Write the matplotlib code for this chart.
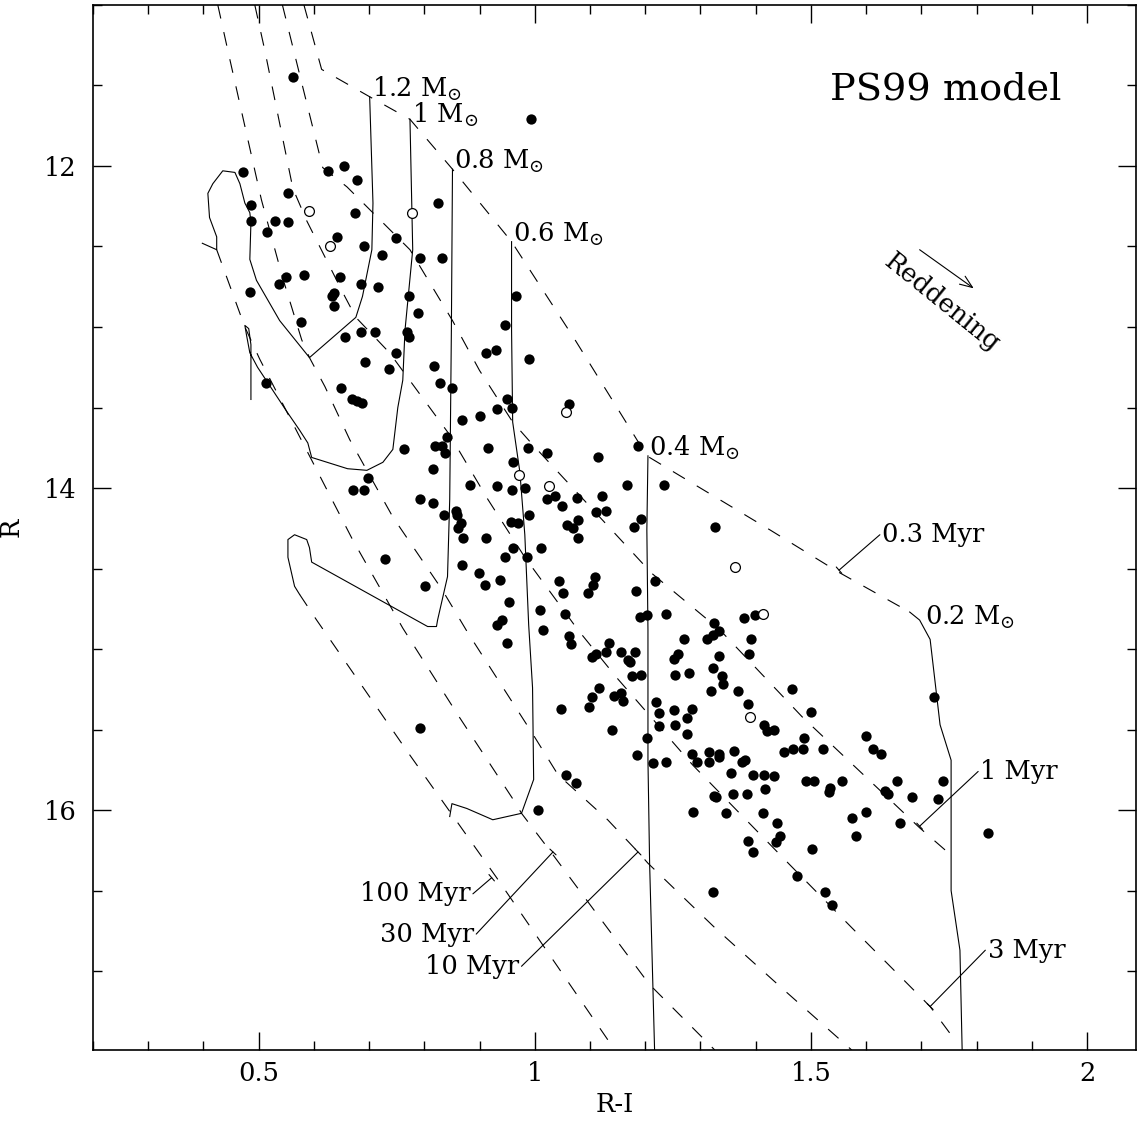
import matplotlib
matplotlib.use("Agg")
import matplotlib.pyplot as plt
import numpy as np
from matplotlib.ticker import MultipleLocator

plt.rcParams['font.family'] = ['DejaVu Serif']
plt.rcParams['mathtext.fontset'] = 'dejavuserif'
plt.rcParams['lines.scale_dashes'] = False

# observed stars (R-I, R)
filled = np.array([
    (0.563, 11.45), (0.471, 12.04), (0.625, 12.03), (0.654, 12.00), (0.678, 12.09),
    (0.553, 12.17), (0.824, 12.23), (0.486, 12.24), (0.487, 12.34), (0.529, 12.34),
    (0.554, 12.35), (0.516, 12.41), (0.674, 12.29), (0.641, 12.44), (0.690, 12.50),
    (0.723, 12.55), (0.748, 12.45), (0.792, 12.57), (0.832, 12.57), (0.536, 12.73),
    (0.549, 12.69), (0.582, 12.68), (0.484, 12.78), (0.647, 12.69), (0.685, 12.73),
    (0.716, 12.75), (0.636, 12.79), (0.632, 12.81), (0.636, 12.87), (0.772, 12.81),
    (0.788, 12.91), (0.576, 12.97), (0.656, 13.06), (0.685, 13.03), (0.710, 13.03),
    (0.768, 13.03), (0.772, 13.06), (0.748, 13.16), (0.692, 13.22), (0.736, 13.26),
    (0.817, 13.24), (0.911, 13.16), (0.513, 13.35), (0.649, 13.38), (0.669, 13.45),
    (0.678, 13.46), (0.687, 13.47), (0.828, 13.35), (0.851, 13.38), (0.868, 13.58),
    (0.900, 13.55), (0.841, 13.68), (0.819, 13.74), (0.832, 13.74), (0.837, 13.78),
    (0.763, 13.76), (0.915, 13.75), (0.815, 13.88), (0.698, 13.94), (0.670, 14.01),
    (0.690, 14.01), (0.882, 13.98), (0.792, 14.07), (0.815, 14.09), (0.835, 14.17),
    (0.857, 14.14), (0.859, 14.17), (0.866, 14.22), (0.861, 14.25), (0.870, 14.31),
    (0.911, 14.31), (0.728, 14.44), (0.868, 14.48), (0.899, 14.53), (0.909, 14.60),
    (0.801, 14.61), (0.993, 11.71), (0.966, 12.81), (0.946, 12.99), (0.929, 13.14),
    (0.989, 13.20), (0.949, 13.45), (0.958, 13.50), (0.931, 13.51), (1.062, 13.48),
    (0.987, 13.75), (1.022, 13.78), (1.114, 13.81), (1.187, 13.74), (0.960, 13.84),
    (0.931, 13.99), (0.958, 14.01), (0.982, 14.00), (1.036, 14.05), (1.022, 14.07),
    (1.049, 14.11), (1.076, 14.06), (1.121, 14.05), (1.167, 13.98), (1.234, 13.98),
    (1.111, 14.15), (1.129, 14.14), (0.989, 14.17), (0.957, 14.21), (0.969, 14.22),
    (1.058, 14.23), (1.069, 14.25), (1.078, 14.20), (1.078, 14.31), (1.192, 14.19),
    (1.179, 14.24), (1.326, 14.24), (0.960, 14.37), (0.947, 14.43), (1.011, 14.37),
    (0.986, 14.43), (0.937, 14.57), (1.044, 14.58), (1.051, 14.65), (1.109, 14.55),
    (1.105, 14.60), (1.096, 14.65), (1.183, 14.64), (1.217, 14.58), (0.953, 14.71),
    (1.009, 14.76), (1.054, 14.78), (1.190, 14.80), (1.203, 14.79), (1.237, 14.78),
    (1.324, 14.84), (1.379, 14.81), (1.399, 14.79), (0.931, 14.85), (0.940, 14.82),
    (1.015, 14.88), (0.949, 14.96), (1.062, 14.92), (1.065, 14.97), (1.134, 14.96),
    (1.103, 15.05), (1.111, 15.03), (1.129, 15.02), (1.156, 15.02), (1.181, 15.02),
    (1.169, 15.07), (1.172, 15.08), (1.176, 15.17), (1.192, 15.16), (1.270, 14.94),
    (1.252, 15.06), (1.259, 15.03), (1.254, 15.16), (1.279, 15.15), (1.116, 15.24),
    (1.103, 15.30), (1.098, 15.36), (1.143, 15.29), (1.156, 15.27), (1.159, 15.32),
    (1.047, 15.37), (1.140, 15.50), (1.219, 15.33), (1.225, 15.40), (1.225, 15.48),
    (1.203, 15.55), (1.252, 15.38), (1.284, 15.37), (1.275, 15.43), (1.254, 15.47),
    (1.275, 15.53), (1.284, 15.65), (1.294, 15.70), (1.185, 15.66), (1.214, 15.71),
    (1.237, 15.70), (0.792, 15.49), (1.056, 15.78), (1.074, 15.83), (1.006, 16.00),
    (1.286, 16.01), (1.333, 14.89), (1.322, 14.91), (1.312, 14.94), (1.391, 14.94),
    (1.388, 15.03), (1.333, 15.04), (1.322, 15.12), (1.339, 15.17), (1.341, 15.22),
    (1.319, 15.26), (1.368, 15.26), (1.386, 15.34), (1.466, 15.25), (1.500, 15.39),
    (1.415, 15.47), (1.420, 15.51), (1.433, 15.50), (1.487, 15.55), (1.485, 15.62),
    (1.467, 15.62), (1.451, 15.64), (1.522, 15.62), (1.600, 15.54), (1.613, 15.62),
    (1.627, 15.65), (1.723, 15.30), (1.315, 15.64), (1.315, 15.70), (1.333, 15.65),
    (1.333, 15.67), (1.361, 15.63), (1.375, 15.70), (1.380, 15.69), (1.355, 15.77),
    (1.395, 15.78), (1.415, 15.78), (1.433, 15.79), (1.417, 15.87), (1.491, 15.82),
    (1.505, 15.82), (1.556, 15.82), (1.534, 15.86), (1.533, 15.89), (1.634, 15.88),
    (1.640, 15.90), (1.656, 15.82), (1.683, 15.92), (1.739, 15.82), (1.730, 15.93),
    (1.324, 15.91), (1.328, 15.92), (1.359, 15.90), (1.384, 15.90), (1.346, 16.02),
    (1.413, 16.02), (1.438, 16.08), (1.445, 16.16), (1.436, 16.20), (1.386, 16.19),
    (1.395, 16.26), (1.502, 16.24), (1.574, 16.05), (1.600, 16.01), (1.582, 16.16),
    (1.661, 16.08), (1.821, 16.14), (1.475, 16.41), (1.525, 16.51), (1.538, 16.59),
    (1.322, 16.51),
])

hollow = np.array([
    (0.591, 12.28), (0.777, 12.29), (0.629, 12.50), (1.056, 13.53), (0.971, 13.92),
    (1.025, 13.99), (1.362, 14.49), (1.413, 14.78), (1.390, 15.42),
])

# PS99 isochrones
iso_03 = np.array([(0.582, 11.00), (0.614, 11.40), (0.701, 11.57), (0.774, 11.71),
                   (0.851, 12.02), (0.958, 12.47), (1.073, 13.08), (1.203, 13.80),
                   (1.426, 14.26), (1.549, 14.52), (1.679, 14.77)])
iso_1 = np.array([(0.543, 11.00), (0.616, 12.01), (0.660, 12.13), (0.774, 12.52),
                  (0.851, 12.96), (0.900, 13.27), (0.960, 13.59), (0.996, 13.73),
                  (1.069, 14.00), (1.212, 14.53), (1.335, 14.88), (1.484, 15.42),
                  (1.697, 16.11), (1.754, 16.28)])
iso_3 = np.array([(0.493, 11.00), (0.511, 11.28), (0.562, 12.14), (0.587, 12.34),
                  (0.656, 12.81), (0.676, 12.94), (0.737, 13.16), (0.846, 13.67),
                  (0.915, 14.07), (0.982, 14.43), (1.078, 14.88), (1.149, 15.18),
                  (1.286, 15.72), (1.462, 16.34), (1.574, 16.73), (1.716, 17.22),
                  (1.757, 17.41)])
iso_10 = np.array([(0.426, 11.00), (0.444, 11.28), (0.505, 12.21), (0.543, 12.69),
                   (0.578, 13.08), (0.592, 13.19), (0.620, 13.37), (0.665, 13.70),
                   (0.743, 14.18), (0.832, 14.63), (0.879, 14.90), (0.937, 15.21),
                   (0.995, 15.52), (1.042, 15.78), (1.132, 16.06), (1.187, 16.26),
                   (1.205, 16.33), (1.326, 16.73), (1.449, 17.11), (1.574, 17.49)])
iso_30 = np.array([(0.424, 12.52), (0.475, 13.00), (0.502, 13.20), (0.574, 13.68),
                   (0.670, 14.32), (0.761, 14.87), (0.861, 15.41), (0.964, 15.95),
                   (0.976, 16.02), (1.027, 16.25), (1.118, 16.67), (1.207, 17.08),
                   (1.326, 17.49)])
iso_100 = np.array([(0.574, 14.66), (0.605, 14.82), (0.770, 15.64), (0.931, 16.42),
                    (1.145, 17.49)])

# PS99 mass tracks
trk_12 = np.array([(0.701, 11.57), (0.707, 12.23), (0.705, 12.52), (0.688, 12.81),
                   (0.676, 12.94), (0.592, 13.19), (0.538, 12.96), (0.496, 12.71),
                   (0.484, 12.58), (0.486, 12.35), (0.484, 12.29), (0.475, 12.23),
                   (0.466, 12.11), (0.457, 12.04), (0.435, 12.03), (0.417, 12.11),
                   (0.408, 12.17), (0.411, 12.32), (0.424, 12.44), (0.424, 12.52),
                   (0.398, 12.48)])
trk_10 = np.array([(0.774, 11.71), (0.779, 12.52), (0.765, 13.02), (0.761, 13.33),
                   (0.752, 13.50), (0.743, 13.76), (0.725, 13.84), (0.696, 13.89),
                   (0.661, 13.88), (0.596, 13.81), (0.589, 13.72), (0.574, 13.64),
                   (0.550, 13.52), (0.525, 13.39), (0.498, 13.25), (0.484, 13.16),
                   (0.478, 13.05), (0.475, 12.99), (0.482, 13.01), (0.486, 13.11),
                   (0.486, 13.45)])
trk_08 = np.array([(0.851, 12.02), (0.849, 13.02), (0.846, 14.07), (0.842, 14.55),
                   (0.824, 14.82), (0.822, 14.86), (0.806, 14.86), (0.596, 14.46),
                   (0.592, 14.37), (0.587, 14.32), (0.565, 14.29), (0.553, 14.32),
                   (0.553, 14.43), (0.565, 14.61), (0.574, 14.66)])
trk_06 = np.array([(0.958, 12.47), (0.958, 13.02), (0.960, 13.59), (0.973, 13.90),
                   (0.982, 14.29), (0.989, 14.85), (0.996, 15.24), (0.998, 15.81),
                   (0.976, 16.02), (0.924, 16.06), (0.877, 15.99), (0.850, 15.96),
                   (0.846, 16.04)])
trk_04 = np.array([(1.205, 13.80), (1.203, 14.26), (1.205, 14.88), (1.205, 15.69),
                   (1.208, 16.33), (1.217, 17.49)])
trk_02 = np.array([(1.679, 14.77), (1.697, 14.82), (1.716, 14.94), (1.734, 15.47),
                   (1.754, 15.69), (1.754, 16.50), (1.770, 16.87), (1.774, 17.49)])

mass_labels = ['1.2', '1', '0.8', '0.6', '0.4', '0.2']
mass_label_pos = [(0.706, 11.57), (0.777, 11.73), (0.853, 12.02), (0.960, 12.47),
                  (1.207, 13.80), (1.706, 14.85)]

# age labels: (text, point on isochrone, text anchor, ha)
age_labels = [
    ('0.3 Myr', (1.551, 14.51), (1.625, 14.29), 'left'),
    ('1 Myr', (1.697, 16.10), (1.803, 15.76), 'left'),
    ('3 Myr', (1.716, 17.22), (1.816, 16.87), 'left'),
    ('100 Myr', (0.922, 16.42), (0.888, 16.52), 'right'),
    ('30 Myr', (1.033, 16.26), (0.894, 16.77), 'right'),
    ('10 Myr', (1.187, 16.26), (0.976, 16.97), 'right'),
]

fig = plt.figure(figsize=(11.37, 11.27), dpi=100)
ax = fig.add_axes([0.0818, 0.0683, 0.9174, 0.9273])

lw = 0.8
for iso in (iso_03, iso_1, iso_3, iso_10, iso_30, iso_100):
    ax.plot(iso[:, 0], iso[:, 1], color='black', lw=lw, dashes=(10, 10))
for trk in (trk_12, trk_10, trk_08, trk_06, trk_04, trk_02):
    ax.plot(trk[:, 0], trk[:, 1], color='black', lw=lw)

ax.scatter(filled[:, 0], filled[:, 1], s=55, color='black', zorder=3, linewidths=0)
ax.scatter(hollow[:, 0], hollow[:, 1], s=50, facecolor='white', edgecolor='black',
           linewidths=0.9, zorder=3)

fs = 18.5
for m, (x, y) in zip(mass_labels, mass_label_pos):
    ax.text(x, y, m + r' M$_{\odot}$', fontsize=fs, ha='left', va='baseline')

for txt, pt, pos, ha in age_labels:
    ax.annotate('', xy=pt, xytext=pos,
                arrowprops=dict(arrowstyle='-[, widthB=0.3, lengthB=0', lw=lw,
                                color='black', shrinkA=0, shrinkB=0))
    ax.text(pos[0] + (0.004 if ha == 'left' else -0.004), pos[1], txt,
            fontsize=fs, ha=ha, va='center')

ax.text(1.534, 11.59, 'PS99 model', fontsize=27.5, ha='left', va='baseline')

# reddening vector
ax.annotate('', xy=(1.795, 12.76), xytext=(1.697, 12.52),
            arrowprops=dict(arrowstyle='->, head_length=0.9, head_width=0.35',
                            lw=lw, color='black', shrinkA=0, shrinkB=0))
ax.text(1.738, 12.85, 'Reddening', fontsize=fs, rotation=-39,
        ha='center', va='center', rotation_mode='anchor')

ax.set_xlim(0.2, 2.089)
ax.set_ylim(17.49, 11.0)
ax.xaxis.set_major_locator(MultipleLocator(0.5))
ax.xaxis.set_minor_locator(MultipleLocator(0.1))
ax.yaxis.set_major_locator(MultipleLocator(2))
ax.yaxis.set_minor_locator(MultipleLocator(0.5))
ax.xaxis.set_major_formatter(plt.FuncFormatter(lambda v, p: f'{v:g}'))
ax.tick_params(which='both', direction='in', top=True, right=True, width=1,
               labelsize=fs)
ax.tick_params(axis='x', pad=8)
ax.tick_params(axis='y', pad=12)
ax.tick_params(which='major', length=13)
ax.tick_params(which='minor', length=6.5)
for s in ax.spines.values():
    s.set_linewidth(1.2)

ax.set_xlabel('R-I', fontsize=fs, labelpad=4)
ax.set_ylabel('R', fontsize=fs, labelpad=14)

fig.savefig('out.png', dpi=100)
